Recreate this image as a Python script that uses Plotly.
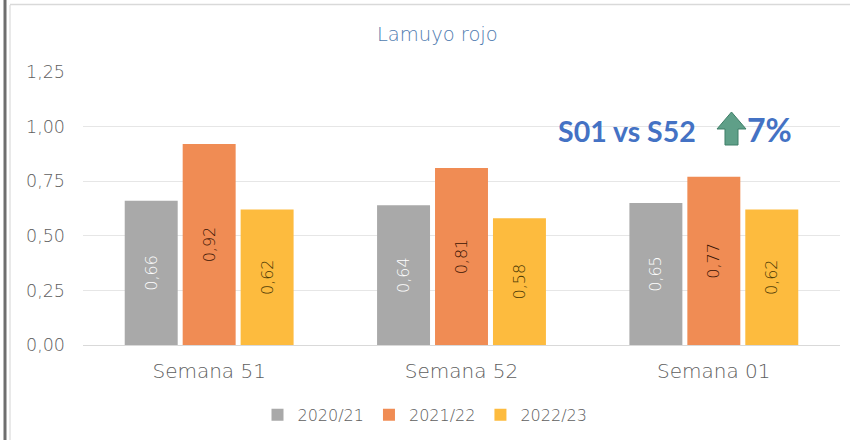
import plotly.graph_objects as go

categories = ["Semana 51", "Semana 52", "Semana 01"]
series_names = ["2020/21", "2021/22", "2022/23"]
v_2020 = [0.66, 0.64, 0.65]
v_2021 = [0.92, 0.81, 0.77]
v_2022 = [0.62, 0.58, 0.62]
labels_2020 = ["0,66", "0,64", "0,65"]
labels_2021 = ["0,92", "0,81", "0,77"]
labels_2022 = ["0,62", "0,58", "0,62"]
y_ticks = [0, 0.25, 0.5, 0.75, 1.0, 1.25]
y_tick_labels = ["0,00", "0,25", "0,50", "0,75", "1,00", "1,25"]

FONT = "DejaVu Sans"
BOLD = "Lato"
WEIGHT = 200
TXT = "#5E5E5E"
W, H = 850, 440
L, R, T, B = 83, 10, 72, 95

fig = go.Figure()
for name, vals, labs, col, tcol in [
    (series_names[0], v_2020, labels_2020, "#A9A9A9", "#FFFFFF"),
    (series_names[1], v_2021, labels_2021, "#F08C54", "#3A1404"),
    (series_names[2], v_2022, labels_2022, "#FDBB3E", "#4A3804"),
]:
    fig.add_bar(
        x=categories, y=vals, name=name, marker_color=col, marker_line_width=0,
        text=labs, textposition="inside", insidetextanchor="middle", textangle=-90,
        textfont=dict(color=tcol, size=16, family=FONT, weight=WEIGHT), constraintext="none",
        hoverinfo="skip",
    )


def px(x):
    return (x - L) / (W - L - R)


def py(y):
    return 1 - (y - T) / (H - T - B)


def arrow_path():
    pts = [(731.5, 112), (746, 129), (738, 129), (738, 145), (725, 145), (725, 129), (717, 129)]
    return "M" + " L".join(f"{px(a):.5f},{py(b):.5f}" for a, b in pts) + " Z"


frame = [
    dict(type="line", xref="paper", yref="paper", x0=px(5), x1=px(5), y0=py(0), y1=py(440),
         line=dict(color="#6E6E6E", width=3), layer="above"),
    dict(type="line", xref="paper", yref="paper", x0=px(10), x1=px(10), y0=py(5), y1=py(440),
         line=dict(color="#E2E2E2", width=1.5), layer="above"),
    dict(type="line", xref="paper", yref="paper", x0=px(10), x1=px(850), y0=py(4.5), y1=py(4.5),
         line=dict(color="#D9D9D9", width=1.5), layer="above"),
    dict(type="path", xref="paper", yref="paper", path=arrow_path(), fillcolor="#5F9F88",
         line=dict(color="#3F7F68", width=1), layer="above"),
]

fig.update_layout(
    width=W, height=H, margin=dict(l=L, r=R, t=T, b=B, pad=0),
    paper_bgcolor="#FFFFFF", plot_bgcolor="#FFFFFF",
    barmode="group", bargap=0.311, bargroupgap=0.086,
    font=dict(family=FONT, color=TXT, size=18, weight=WEIGHT),
    showlegend=True,
    legend=dict(orientation="h", x=0.5, xanchor="center", xref="container",
                y=0.057, yanchor="middle", yref="container",
                font=dict(size=16, color=TXT, family=FONT, weight=WEIGHT),
                itemwidth=30, traceorder="normal"),
    shapes=frame,
    annotations=[
        dict(text="Lamuyo rojo", xref="paper", yref="paper", x=px(437), y=py(34),
             xanchor="center", yanchor="middle", showarrow=False,
             font=dict(size=19.5, color="#4F7BAF", family=FONT, weight=WEIGHT)),
        dict(text="<b>S01 vs S52</b>", xref="paper", yref="paper", x=px(556), y=py(131),
             xanchor="left", yanchor="middle", showarrow=False,
             font=dict(size=28.5, color="#4472C4", family=BOLD)),
        dict(text="<b>7%</b>", xref="paper", yref="paper", x=px(744.5), y=py(129),
             xanchor="left", yanchor="middle", showarrow=False,
             font=dict(size=32, color="#4472C4", family=BOLD)),
    ],
    xaxis=dict(showgrid=False, showline=True, linecolor="#D9D9D9", linewidth=1, ticks="",
               ticklabelstandoff=8,
               tickfont=dict(size=20, color=TXT, family=FONT, weight=WEIGHT), fixedrange=True),
    yaxis=dict(range=[0, 1.25], tickvals=y_ticks, ticktext=y_tick_labels, showgrid=True,
               gridcolor="#E6E6E6", gridwidth=1, zeroline=False, ticks="", showline=False,
               ticklabelstandoff=17,
               tickfont=dict(size=17.5, color=TXT, family=FONT, weight=WEIGHT), fixedrange=True),
)
fig.write_html("out.html", config={"displayModeBar": False},
               post_script="document.body.style.margin='0';")
